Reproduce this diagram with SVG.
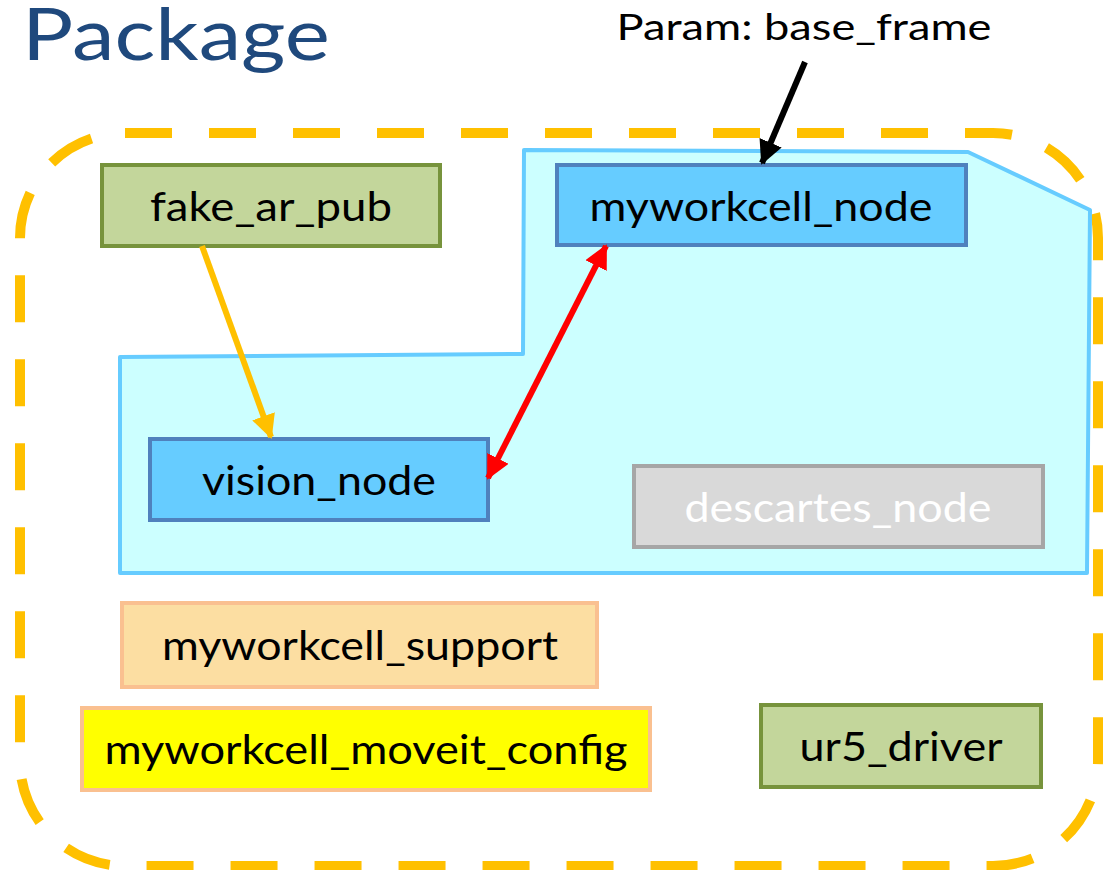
<svg xmlns="http://www.w3.org/2000/svg" width="1105" height="870" viewBox="0 0 1105 870">
  <style>
    .lbl { font-family: Lato, "Open Sans", sans-serif; font-size: 41px; fill: #000; text-anchor: middle; }
    .box { stroke-width: 4; }
    .green { fill: #C3D69B; stroke: #77933C; }
    .blue { fill: #66CCFF; stroke: #4F81BD; }
    .grey { fill: #D9D9D9; stroke: #A6A6A6; }
    .tan { fill: #FCDEA2; stroke: #FAC090; }
    .yellow { fill: #FFFF00; stroke: #FAC090; }
  </style>
  <defs>
    <marker id="headBlack" markerUnits="userSpaceOnUse" markerWidth="24" markerHeight="24" viewBox="0 0 24 24" refX="22" refY="12" orient="auto">
      <path d="M0,0 L24,12 L0,24 Z" fill="#000"/>
    </marker>
    <marker id="headOrange" markerUnits="userSpaceOnUse" markerWidth="24" markerHeight="24" viewBox="0 0 24 24" refX="22" refY="12" orient="auto">
      <path d="M0,0 L24,12 L0,24 Z" fill="#FFC000"/>
    </marker>
    <marker id="headRed" markerUnits="userSpaceOnUse" markerWidth="24" markerHeight="24" viewBox="0 0 24 24" refX="22" refY="12" orient="auto-start-reverse">
      <path d="M0,0 L24,12 L0,24 Z" fill="#FF0000"/>
    </marker>
  </defs>

  <rect width="1105" height="870" fill="#FFFFFF"/>

  <!-- title -->
  <text x="22" y="60" font-family="Lato, 'Open Sans', sans-serif" font-size="72" fill="#1F497D" textLength="308" lengthAdjust="spacingAndGlyphs">Package</text>

  <!-- package boundary -->
  <rect id="package" x="20" y="133" width="1078" height="733" rx="105" ry="105" fill="none" stroke="#FFC000" stroke-width="10" stroke-dasharray="47 37"/>

  <!-- shared namespace region -->
  <polygon id="region" points="120,357 523,354 524,150 968,152 1090,210 1087,573 120,573" fill="#CCFFFF" stroke="#66CCFF" stroke-width="4" stroke-linejoin="round"/>

  <!-- parameter label -->
  <text id="param" x="804" y="40" font-family="Lato, 'Open Sans', sans-serif" font-size="36" text-anchor="middle" textLength="375" lengthAdjust="spacingAndGlyphs">Param: base_frame</text>

  <g id="fake_ar_pub">
    <rect class="box green" x="102" y="165" width="338" height="81"/>
    <text class="lbl" x="271" y="221" textLength="242" lengthAdjust="spacingAndGlyphs">fake_ar_pub</text>
  </g>

  <g id="myworkcell_node">
    <rect class="box blue" x="557" y="165" width="409" height="80"/>
    <text class="lbl" x="761" y="221" textLength="343" lengthAdjust="spacingAndGlyphs">myworkcell_node</text>
  </g>

  <g id="vision_node">
    <rect class="box blue" x="150" y="439" width="338" height="81"/>
    <text class="lbl" x="319" y="495" textLength="234" lengthAdjust="spacingAndGlyphs">vision_node</text>
  </g>

  <g id="descartes_node">
    <rect class="box grey" x="634" y="466" width="409" height="81"/>
    <text class="lbl" x="838" y="522" style="fill:#FFFFFF" textLength="307" lengthAdjust="spacingAndGlyphs">descartes_node</text>
  </g>

  <g id="myworkcell_support">
    <rect class="box tan" x="122" y="603" width="475" height="84"/>
    <text class="lbl" x="360" y="660" textLength="396" lengthAdjust="spacingAndGlyphs">myworkcell_support</text>
  </g>

  <g id="myworkcell_moveit_config">
    <rect class="box yellow" x="82" y="708" width="568" height="82"/>
    <text class="lbl" x="366" y="764" textLength="523" lengthAdjust="spacingAndGlyphs">myworkcell_moveit_config</text>
  </g>

  <g id="ur5_driver">
    <rect class="box green" x="761" y="705" width="280" height="82"/>
    <text class="lbl" x="901" y="761" textLength="203" lengthAdjust="spacingAndGlyphs">ur5_driver</text>
  </g>

  <g id="connectors" fill="none" stroke-width="6">
    <line x1="805" y1="62" x2="762" y2="163" stroke="#000000" marker-end="url(#headBlack)"/>
    <line x1="202" y1="246" x2="271" y2="437" stroke="#FFC000" marker-end="url(#headOrange)"/>
    <line x1="488" y1="478" x2="606" y2="246" stroke="#FF0000" marker-start="url(#headRed)" marker-end="url(#headRed)"/>
  </g>
</svg>
